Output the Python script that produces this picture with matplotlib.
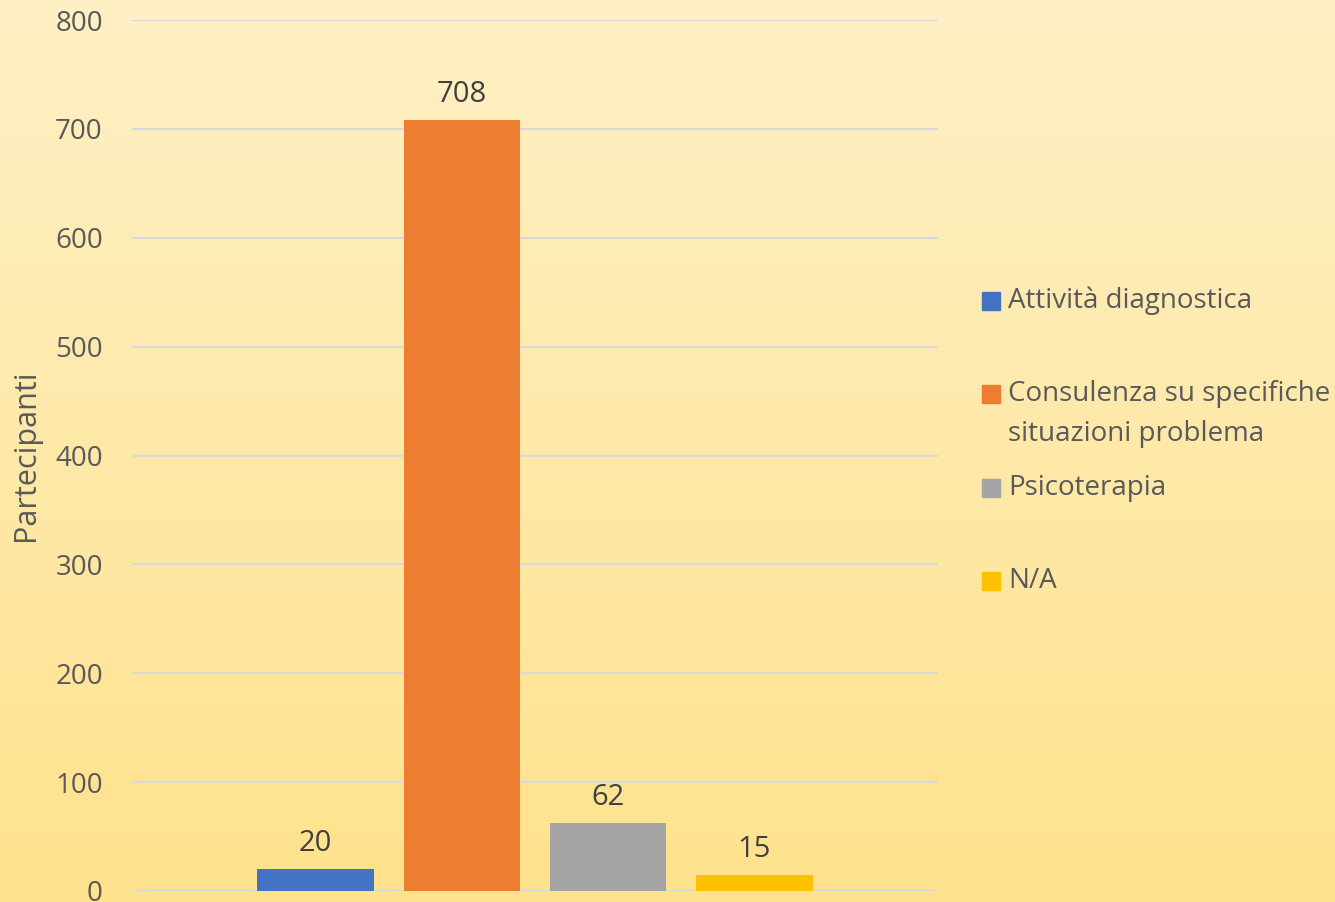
"""Participants by type of activity – bar chart on a warm gradient background."""

import matplotlib
matplotlib.use("Agg")

import matplotlib.pyplot as plt
import numpy as np
from matplotlib.patches import Rectangle

# data
categories = [
    "Attività diagnostica",
    "Consulenza su specifiche\nsituazioni problema",
    "Psicoterapia",
    "N/A",
]
values = [20, 708, 62, 15]
colors = ["#4472C4", "#ED7D31", "#A5A5A5", "#FFC000"]
y_ticks = [0, 100, 200, 300, 400, 500, 600, 700, 800]

plt.rcParams["font.family"] = ["Open Sans", "DejaVu Sans"]

fig = plt.figure(figsize=(13.35, 9.02), dpi=100)

# background gradient (light cream at top -> warm yellow at bottom)
bg = fig.add_axes([0, 0, 1, 1], zorder=0)
top = np.array([254, 240, 198]) / 255
bottom = np.array([255, 226, 140]) / 255
t = np.linspace(0, 1, 256)[:, None]
grad = top[None, :] * (1 - t) + bottom[None, :] * t
bg.imshow(grad[:, None, :], aspect="auto", extent=[0, 1, 0, 1],
          interpolation="bilinear")
bg.set_axis_off()

ax = fig.add_axes([0.0989, 0.0122, 0.6037, 0.9656], zorder=1)
ax.patch.set_alpha(0)

x = np.arange(len(values))
bars = ax.bar(x, values, width=0.795, color=colors, zorder=3)
ax.bar_label(bars, labels=[str(v) for v in values], padding=8,
             fontsize=21, color="#404040")

ax.set_xlim(-1.255, 4.255)
ax.set_ylim(0, 800)
ax.set_yticks(y_ticks)
ax.set_xticks([])
ax.tick_params(axis="y", length=0, pad=21, labelsize=20, labelcolor="#595959")
ax.grid(axis="y", color="#D9D9D9", linewidth=1.5, zorder=0)
for s in ax.spines.values():
    s.set_visible(False)
ax.set_ylabel("Partecipanti", fontsize=22, color="#595959", labelpad=10)

# legend, laid out like the original (uneven vertical spacing)
W, H = fig.get_size_inches() * fig.dpi
legend_y = [301, 414, 488, 581]   # pixel centres of entries, from top
for label, c, yp in zip(categories, colors, legend_y):
    yf = 1 - yp / H
    lines = label.count("\n") + 1
    sq_y = yf + (lines - 1) * 20 / H  # square aligns with first line
    fig.add_artist(Rectangle((982 / W, sq_y - 9 / H), 18 / W, 18 / H,
                             transform=fig.transFigure, color=c, zorder=5))
    fig.text(1008 / W, yf, label, fontsize=20, color="#595959",
             va="center", ha="left", linespacing=1.6, zorder=5)

fig.savefig("out.png", dpi=100)
